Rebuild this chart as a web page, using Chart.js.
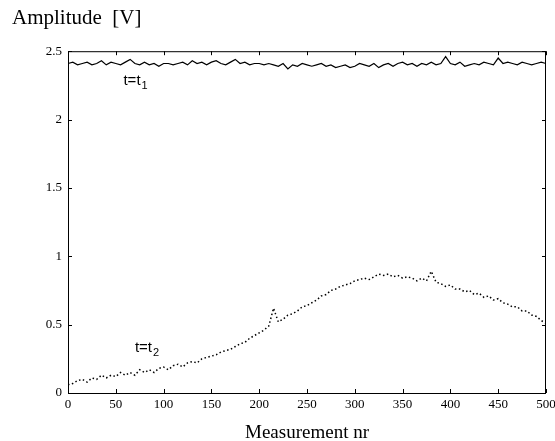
<!DOCTYPE html>
<html>
<head>
<meta charset="utf-8">
<script src="https://cdn.jsdelivr.net/npm/chart.js@4"></script>
<style>
  html, body { margin: 0; padding: 0; background: #fff; }
  #wrap { width: 555px; height: 441px; }
</style>
</head>
<body>
<div id="wrap"><canvas id="c" width="555" height="441"></canvas></div>
<script>
// measurement numbers (every 5th)
const measNr = [];
for (let i = 0; i <= 500; i += 5) measNr.push(i);

// t = t1 : amplitude near 2.4 V
const ampT1 = [
  2.41, 2.42, 2.40, 2.41, 2.42, 2.40, 2.41, 2.43, 2.40, 2.42,
  2.41, 2.40, 2.42, 2.44, 2.41, 2.40, 2.42, 2.40, 2.41, 2.39,
  2.41, 2.41, 2.40, 2.41, 2.42, 2.40, 2.43, 2.41, 2.42, 2.40,
  2.42, 2.43, 2.41, 2.40, 2.42, 2.44, 2.41, 2.42, 2.40, 2.41,
  2.41, 2.40, 2.41, 2.40, 2.39, 2.41, 2.37, 2.40, 2.39, 2.41,
  2.40, 2.39, 2.40, 2.41, 2.39, 2.40, 2.38, 2.39, 2.40, 2.38,
  2.39, 2.41, 2.40, 2.39, 2.41, 2.38, 2.40, 2.41, 2.39, 2.41,
  2.42, 2.40, 2.41, 2.39, 2.41, 2.40, 2.42, 2.40, 2.41, 2.46,
  2.41, 2.40, 2.42, 2.39, 2.40, 2.41, 2.40, 2.42, 2.41, 2.40,
  2.45, 2.41, 2.42, 2.41, 2.40, 2.42, 2.41, 2.40, 2.41, 2.42,
  2.41
];

// t = t2 : amplitude rising then falling
const ampT2 = [
  0.06, 0.07, 0.09, 0.10, 0.08, 0.11, 0.10, 0.13, 0.11, 0.13,
  0.12, 0.15, 0.13, 0.15, 0.13, 0.17, 0.15, 0.17, 0.15, 0.18,
  0.19, 0.17, 0.20, 0.21, 0.19, 0.22, 0.23, 0.22, 0.25, 0.26,
  0.27, 0.28, 0.30, 0.31, 0.32, 0.34, 0.36, 0.37, 0.40, 0.42,
  0.44, 0.46, 0.49, 0.62, 0.52, 0.54, 0.57, 0.58, 0.60, 0.63,
  0.64, 0.66, 0.68, 0.71, 0.72, 0.75, 0.76, 0.78, 0.79, 0.80,
  0.82, 0.83, 0.84, 0.83, 0.85, 0.87, 0.86, 0.87, 0.85, 0.86,
  0.84, 0.85, 0.84, 0.82, 0.84, 0.82, 0.89, 0.81, 0.80, 0.78,
  0.79, 0.76, 0.76, 0.74, 0.75, 0.72, 0.73, 0.70, 0.71, 0.68,
  0.69, 0.66, 0.65, 0.63, 0.63, 0.60, 0.60, 0.57, 0.56, 0.53,
  0.51
];

const xTicks = [0, 50, 100, 150, 200, 250, 300, 350, 400, 450, 500];
const yTicks = [0, 0.5, 1, 1.5, 2, 2.5];

const seriesLabels = [
  { name: 't=t', sub: '1', x: 58, y: 2.25 },
  { name: 't=t', sub: '2', x: 70, y: 0.30 }
];

const serif = "'Liberation Serif', 'DejaVu Serif', serif";

// 枠と内向きの目盛り
const framePlugin = {
  id: 'frame',
  afterDatasetsDraw(chart) {
    const { ctx, chartArea: a, scales } = chart;
    ctx.save();
    ctx.strokeStyle = '#000';
    ctx.lineWidth = 1;
    ctx.strokeRect(a.left + 0.5, a.top + 0.5, a.right - a.left - 1, a.bottom - a.top);
    ctx.beginPath();
    xTicks.forEach(v => {
      const px = Math.round(scales.x.getPixelForValue(v)) + 0.5;
      ctx.moveTo(px, a.bottom); ctx.lineTo(px, a.bottom - 4);
      ctx.moveTo(px, a.top); ctx.lineTo(px, a.top + 4);
    });
    yTicks.forEach(v => {
      const py = Math.round(scales.y.getPixelForValue(v)) + 0.5;
      ctx.moveTo(a.left, py); ctx.lineTo(a.left + 4, py);
      ctx.moveTo(a.right, py); ctx.lineTo(a.right - 4, py);
    });
    ctx.stroke();

    // 系列ラベル
    ctx.fillStyle = '#000';
    ctx.textBaseline = 'alphabetic';
    seriesLabels.forEach(l => {
      const px = scales.x.getPixelForValue(l.x);
      const py = scales.y.getPixelForValue(l.y);
      ctx.font = "15px 'Liberation Sans', sans-serif";
      ctx.fillText(l.name, px, py);
      const w = ctx.measureText(l.name).width;
      ctx.font = "11px 'Liberation Sans', sans-serif";
      ctx.fillText(l.sub, px + w + 1, py + 4);
    });
    ctx.restore();
  }
};

const ctx = document.getElementById('c').getContext('2d');
new Chart(ctx, {
  type: 'line',
  data: {
    labels: measNr,
    datasets: [
      {
        label: 't=t1',
        data: measNr.map((x, i) => ({ x: x, y: ampT1[i] })),
        borderColor: '#000',
        borderWidth: 1.2,
        pointRadius: 0,
        tension: 0
      },
      {
        label: 't=t2',
        data: measNr.map((x, i) => ({ x: x, y: ampT2[i] })),
        borderColor: '#000',
        borderWidth: 1.5,
        borderDash: [1.5, 2.5],
        pointRadius: 0,
        tension: 0
      }
    ]
  },
  options: {
    responsive: false,
    animation: false,
    layout: { padding: { left: 12, right: 9, top: 0, bottom: 0 } },
    plugins: {
      legend: { display: false },
      tooltip: { enabled: false },
      title: {
        display: true,
        text: 'Amplitude  [V]',
        align: 'start',
        color: '#000',
        font: { family: serif, size: 21, weight: 'normal' },
        padding: { top: 6, bottom: 20 }
      }
    },
    scales: {
      x: {
        type: 'linear',
        min: 0,
        max: 500,
        afterBuildTicks(scale) { scale.ticks = xTicks.map(v => ({ value: v })); },
        afterFit(scale) {
          scale.height = 48;
          scale.paddingLeft = 0;
          scale.paddingRight = 0;
        },
        grid: { display: false, drawTicks: false },
        border: { display: false },
        ticks: { color: '#000', font: { family: serif, size: 13 }, padding: 4, maxRotation: 0 },
        title: {
          display: true,
          text: 'Measurement nr',
          color: '#000',
          font: { family: serif, size: 19 },
          padding: { top: 0, bottom: -3 }
        }
      },
      y: {
        min: 0,
        max: 2.5,
        afterBuildTicks(scale) { scale.ticks = yTicks.map(v => ({ value: v })); },
        afterFit(scale) {
          scale.width = 56;
          scale.paddingTop = 0;
          scale.paddingBottom = 0;
        },
        grid: { display: false, drawTicks: false },
        border: { display: false },
        ticks: {
          color: '#000',
          font: { family: serif, size: 13 },
          padding: 6,
          callback: v => String(v)
        }
      }
    }
  },
  plugins: [framePlugin]
});
</script>
</body>
</html>
